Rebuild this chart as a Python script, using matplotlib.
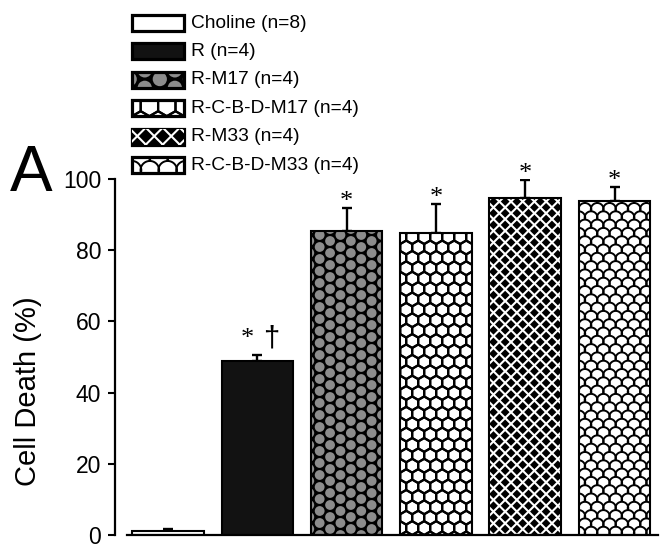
import numpy as np
import matplotlib
matplotlib.use('Agg')
import matplotlib.pyplot as plt
from matplotlib.patches import Rectangle, Circle, Polygon
from matplotlib.collections import PatchCollection, LineCollection
from matplotlib.transforms import IdentityTransform

# ---- data ----
groups = ['Choline (n=8)', 'R (n=4)', 'R-M17 (n=4)', 'R-C-B-D-M17 (n=4)',
          'R-M33 (n=4)', 'R-C-B-D-M33 (n=4)']
cell_death = [1.0, 48.9, 85.5, 84.9, 94.8, 93.9]
sem = [0.6, 1.7, 6.4, 8.1, 4.9, 3.9]
fills = ['plain', 'solid', 'dots', 'hex', 'lattice', 'scales']

plt.rcParams['font.family'] = ['Liberation Sans', 'DejaVu Sans']

W, H = 668, 556
fig = plt.figure(figsize=(W / 100, H / 100), dpi=100)
ax = fig.add_axes([115 / W, 1 - 535 / H, 543 / W, 356 / H])

x = np.arange(len(groups))
ax.set_xlim(-0.5935, 5.487)
ax.set_ylim(0, 100)

background = {'plain': 'white', 'solid': '#121212', 'dots': 'black',
              'hex': 'white', 'lattice': 'black', 'scales': 'white'}


def pattern(kind, x0, y0, x1, y1, s=1.0):
    """Build pattern artists in pixel coords for the box (x0,y0)-(x1,y1)."""
    ident = IdentityTransform()
    if kind == 'dots':
        d = 12.0 * s
        dx = d * 0.866
        circles = []
        for i, cx in enumerate(np.arange(x0 - d, x1 + d, dx)):
            off = (i % 2) * d / 2
            for cy in np.arange(y0 - d + off, y1 + d, d):
                circles.append(Circle((cx, cy), 4.9 * s))
        return [PatchCollection(circles, facecolor='#8c8c8c', edgecolor='none',
                                transform=ident)]
    if kind == 'hex':
        w = 12.0 * s
        r = w / np.sqrt(3)
        ang = np.radians(np.arange(30, 390, 60))
        hexes = []
        for j, cy in enumerate(np.arange(y0 - 2 * r, y1 + 2 * r, 1.5 * r)):
            off = (j % 2) * w / 2
            for cx in np.arange(x0 - w + off, x1 + w, w):
                hexes.append(Polygon(np.c_[cx + r * np.cos(ang), cy + r * np.sin(ang)]))
        return [PatchCollection(hexes, facecolor='none', edgecolor='black',
                                linewidth=1.6, transform=ident)]
    if kind == 'lattice':
        p = 11.7 * s
        L = (x1 - x0) + (y1 - y0) + 20
        segs = []
        for c in np.arange(-L, L, p):
            segs.append([(x0 + c - L, y0 - L), (x0 + c + L, y0 + L)])
            segs.append([(x0 + c - L, y0 + L), (x0 + c + L, y0 - L)])
        return [LineCollection(segs, colors='white', linewidths=1.5, transform=ident)]
    if kind == 'scales':
        P = 12.3 * s
        Hs = 8.3 * s
        R = (P ** 2 / 4 + Hs ** 2) / (2 * Hs)
        a = np.arcsin((Hs - R) / R)
        t = np.linspace(-a, np.pi + a, 30)
        segs = []
        for j, cy in enumerate(np.arange(y0 - Hs, y1 + 2 * Hs, Hs)):
            off = (j % 2) * P / 2
            for cx in np.arange(x0 - P + off, x1 + P, P):
                segs.append(np.c_[cx + R * np.cos(t), cy - R + R * np.sin(t)])
        return [LineCollection(segs, colors='black', linewidths=1.4, transform=ident)]
    return []


# ---- bars ----
bars = ax.bar(x, cell_death, width=0.8, color=[background[f] for f in fills],
              edgecolor='none', zorder=2)
for b, f in zip(bars, fills):
    (px0, py0), (px1, py1) = ax.transData.transform(
        [(b.get_x(), b.get_y()), (b.get_x() + b.get_width(), b.get_y() + b.get_height())])
    for art in pattern(f, px0, py0, px1, py1):
        art.set_zorder(2.5)
        ax.add_collection(art, autolim=False)
        art.set_clip_path(b)
ax.bar(x, cell_death, width=0.8, fill=False, edgecolor='black', linewidth=1.5, zorder=3)

# upper error bars only
ax.errorbar(x, cell_death, yerr=[np.zeros(len(x)), sem], fmt='none', ecolor='black',
            elinewidth=1.7, capsize=3.5, capthick=1.7, zorder=1)

# significance marks
for i in range(2, len(x)):
    ax.annotate('*', xy=(x[i], cell_death[i] + sem[i]), xytext=(0, 0),
                textcoords='offset points', ha='center', va='baseline',
                fontsize=19, family='Liberation Serif')
ax.annotate('*', xy=(x[1], cell_death[1] + sem[1]), xytext=(-7, 7),
            textcoords='offset points', ha='center', va='baseline',
            fontsize=19, family='Liberation Serif')
ax.annotate('\u2020', xy=(x[1], cell_death[1] + sem[1]), xytext=(10, 6),
            textcoords='offset points', ha='center', va='baseline', fontsize=21)

# ---- axes styling ----
for side in ['top', 'right']:
    ax.spines[side].set_visible(False)
ax.spines['left'].set_linewidth(1.6)
ax.spines['bottom'].set_linewidth(1.6)
ax.spines['bottom'].set_bounds(-0.459, 5.487)
ax.set_xticks([])
ax.set_yticks(range(0, 101, 20))
ax.tick_params(axis='y', direction='out', length=5, width=1.5, pad=5, labelsize=16.5)
fig.text(28 / W, 1 - 391 / H, 'Cell Death (%)', rotation=90, ha='center', va='center',
         fontsize=21)
fig.text(10 / W, 1 - 191 / H, 'A', fontsize=46, ha='left', va='baseline')

# ---- legend drawn by hand so the patterns match ----
ident = IdentityTransform()
for i, (name, f) in enumerate(zip(groups, fills)):
    yc = H - (23 + 28.4 * i)
    box = Rectangle((132, yc - 8), 52, 16, facecolor=background[f], edgecolor='none',
                    transform=ident)
    fig.add_artist(box)
    for art in pattern(f, 132, yc - 8, 184, yc + 8, s=1.45):
        fig.add_artist(art)
        art.set_clip_path(box)
    fig.add_artist(Rectangle((132, yc - 8), 52, 16, fill=False, edgecolor='black',
                             linewidth=2.3, transform=ident))
    fig.text(191 / W, yc / H, name, fontsize=13.8, ha='left', va='center')

fig.savefig('out.png', dpi=100)
